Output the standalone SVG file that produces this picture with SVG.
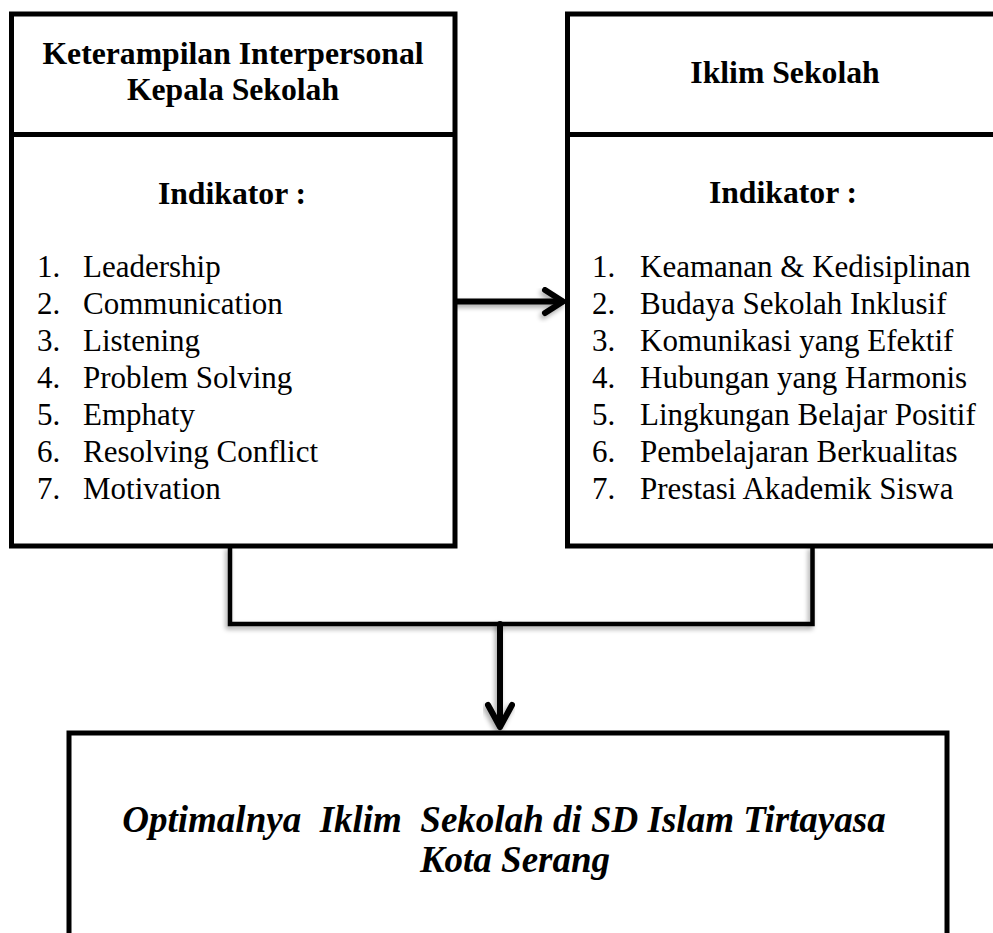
<svg xmlns="http://www.w3.org/2000/svg" width="993" height="933" viewBox="0 0 993 933">
  <style>
    .box { fill: #fff; stroke: #000; stroke-width: 5; }
    .div { stroke: #000; stroke-width: 5; fill: none; }
    .hdr { font-family: "Liberation Serif", "Times New Roman", serif; font-weight: bold; font-size: 31.7px; fill: #000; text-anchor: middle; }
    .item { font-family: "Liberation Serif", "Times New Roman", serif; font-size: 31px; fill: #000; }
    .res { font-family: "Liberation Serif", "Times New Roman", serif; font-weight: bold; font-style: italic; font-size: 37px; fill: #000; text-anchor: middle; white-space: pre; }
    .conn { stroke: #000; stroke-width: 4.5; fill: none; }
    .arr { stroke: #000; stroke-width: 6; fill: none; stroke-linecap: round; stroke-linejoin: round; }
  </style>
  <defs>
    <filter id="sh" x="-20%" y="-20%" width="140%" height="160%">
      <feGaussianBlur in="SourceAlpha" stdDeviation="2.5"/>
      <feOffset dx="-2" dy="3" result="b"/>
      <feComponentTransfer><feFuncA type="linear" slope="0.35"/></feComponentTransfer>
      <feMerge><feMergeNode/><feMergeNode in="SourceGraphic"/></feMerge>
    </filter>
  </defs>
  <rect width="993" height="933" fill="#fff"/>

  <g id="connectors">
    <path class="conn" d="M230,546 V624 H812.5 V546" filter="url(#sh)"/>
    <g filter="url(#sh)">
      <path class="arr" d="M457,301.5 H562"/>
      <path class="arr" d="M545,290 L563,301.5 L545,313"/>
    </g>
    <g filter="url(#sh)">
      <path class="arr" d="M500,624 V726"/>
      <path class="arr" d="M488,705 L500,727 L512,705"/>
    </g>
  </g>

  <g id="node-keterampilan">
    <rect class="box" x="11.5" y="14" width="443.5" height="532"/>
    <line class="div" x1="11.5" y1="134.5" x2="455" y2="134.5"/>
    <text class="hdr" x="233" y="64">Keterampilan Interpersonal</text>
    <text class="hdr" x="233" y="100">Kepala Sekolah</text>
    <text class="hdr" x="232" y="204">Indikator :</text>
    <g class="item">
      <text x="37" y="277">1.</text><text x="83" y="277">Leadership</text>
      <text x="37" y="314">2.</text><text x="83" y="314">Communication</text>
      <text x="37" y="351">3.</text><text x="83" y="351">Listening</text>
      <text x="37" y="388">4.</text><text x="83" y="388">Problem Solving</text>
      <text x="37" y="425">5.</text><text x="83" y="425">Emphaty</text>
      <text x="37" y="462">6.</text><text x="83" y="462">Resolving Conflict</text>
      <text x="37" y="499">7.</text><text x="83" y="499">Motivation</text>
    </g>
  </g>

  <g id="node-iklim">
    <rect class="box" x="567.5" y="14" width="440" height="532"/>
    <line class="div" x1="567.5" y1="134.5" x2="1007" y2="134.5"/>
    <text class="hdr" x="785" y="83">Iklim Sekolah</text>
    <text class="hdr" x="783" y="203">Indikator :</text>
    <g class="item">
      <text x="592" y="277">1.</text><text x="640" y="277">Keamanan &amp; Kedisiplinan</text>
      <text x="592" y="314">2.</text><text x="640" y="314">Budaya Sekolah Inklusif</text>
      <text x="592" y="351">3.</text><text x="640" y="351">Komunikasi yang Efektif</text>
      <text x="592" y="388">4.</text><text x="640" y="388">Hubungan yang Harmonis</text>
      <text x="592" y="425">5.</text><text x="640" y="425">Lingkungan Belajar Positif</text>
      <text x="592" y="462">6.</text><text x="640" y="462">Pembelajaran Berkualitas</text>
      <text x="592" y="499">7.</text><text x="640" y="499">Prestasi Akademik Siswa</text>
    </g>
  </g>

  <g id="node-hasil">
    <rect class="box" x="69" y="733" width="878" height="240" stroke-width="4.5"/>
    <text class="res" x="504" y="832" xml:space="preserve">Optimalnya  Iklim  Sekolah di SD Islam Tirtayasa</text>
    <text class="res" x="515" y="872">Kota Serang</text>
  </g>
</svg>
